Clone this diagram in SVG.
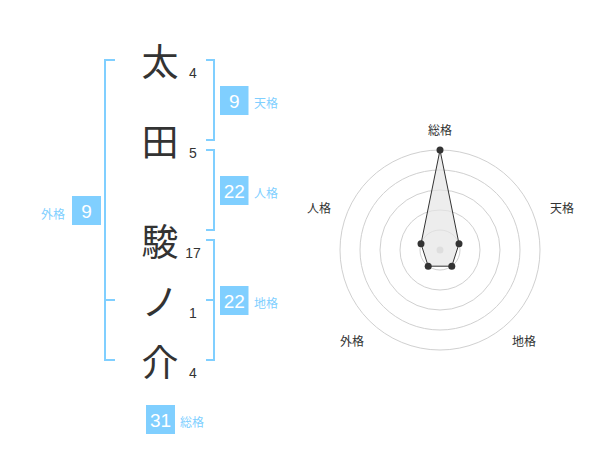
<svg xmlns="http://www.w3.org/2000/svg" width="600" height="470" viewBox="0 0 600 470">
<style>
.ch{font-family:"Noto Sans CJK JP","Noto Sans CJK SC",sans-serif;font-size:37px;fill:#333;text-anchor:middle;dominant-baseline:central}
.sk{font-family:"Liberation Sans",Arial,sans-serif;font-size:14px;fill:#333;text-anchor:middle}
.br{fill:none;stroke:#80cfff;stroke-width:2}
.bx{fill:#80cfff}
.bn{font-family:"Liberation Sans",Arial,sans-serif;font-size:19px;fill:#fff;text-anchor:middle}
.lb{font-family:"Noto Sans CJK JP","Noto Sans CJK SC",sans-serif;font-size:12px;fill:#80cfff}
.rl{font-family:"Noto Sans CJK JP","Noto Sans CJK SC",sans-serif;font-size:12px;fill:#333;text-anchor:middle}
.ring{fill:none;stroke:#d0d0d0;stroke-width:1}
.pt{fill:#333}
</style>
<rect width="600" height="470" fill="#fff"/>
<g id="chars">
<g id="c1"><text class="ch" x="160" y="60">太</text><text class="sk" x="193" y="78">4</text></g>
<g id="c2"><text class="ch" x="160" y="140">田</text><text class="sk" x="193" y="158">5</text></g>
<g id="c3"><text class="ch" x="160" y="240">駿</text><text class="sk" x="193" y="258">17</text></g>
<g id="c4"><text class="ch" x="160" y="300">ノ</text><text class="sk" x="193" y="318">1</text></g>
<g id="c5"><text class="ch" x="160" y="360">介</text><text class="sk" x="193" y="378">4</text></g>
</g>
<g id="connectors">
<path class="br" d="M115,60 H105 V360 H115 M105,300 H115"/>
<path class="br" d="M206,60 H214 V140 H206"/>
<path class="br" d="M206,150 H214 V230 H206"/>
<path class="br" d="M206,240 H214 V360 H206 M214,300 H206"/>
</g>
<g id="tenkaku"><rect class="bx" x="220" y="86" width="28.5" height="29"/><text class="bn" x="234.2" y="107.5">9</text><text class="lb" x="254" y="108">天格</text></g>
<g id="jinkaku"><rect class="bx" x="220" y="176" width="28.5" height="29"/><text class="bn" x="234.2" y="197.5">22</text><text class="lb" x="254" y="198">人格</text></g>
<g id="chikaku"><rect class="bx" x="220" y="286" width="28.5" height="29"/><text class="bn" x="234.2" y="307.5">22</text><text class="lb" x="254" y="308">地格</text></g>
<g id="gaikaku"><rect class="bx" x="72" y="196" width="29" height="29"/><text class="bn" x="86.5" y="217.5">9</text><text class="lb" x="65" y="219" text-anchor="end">外格</text></g>
<g id="soukaku"><rect class="bx" x="146" y="405" width="29" height="29"/><text class="bn" x="160.5" y="426.5">31</text><text class="lb" x="180" y="427">総格</text></g>
<g id="radar">
<circle class="ring" cx="440" cy="250" r="20"/>
<circle class="ring" cx="440" cy="250" r="40"/>
<circle class="ring" cx="440" cy="250" r="60"/>
<circle class="ring" cx="440" cy="250" r="80"/>
<circle class="ring" cx="440" cy="250" r="100"/>
<circle cx="440" cy="250" r="3.5" fill="#ccc"/>
<polygon points="440,150 459,243.8 451.8,266.2 428.2,266.2 421,243.8" fill="#e6e6e6" fill-opacity="0.7" stroke="#333" stroke-width="1"/>
<circle class="pt" cx="440" cy="150" r="3.5"/>
<circle class="pt" cx="459" cy="243.8" r="3.5"/>
<circle class="pt" cx="451.8" cy="266.2" r="3.5"/>
<circle class="pt" cx="428.2" cy="266.2" r="3.5"/>
<circle class="pt" cx="421" cy="243.8" r="3.5"/>
<text class="rl" x="440" y="135">総格</text>
<text class="rl" x="562" y="213">天格</text>
<text class="rl" x="524" y="346">地格</text>
<text class="rl" x="352" y="346">外格</text>
<text class="rl" x="319" y="213">人格</text>
</g>
</svg>
